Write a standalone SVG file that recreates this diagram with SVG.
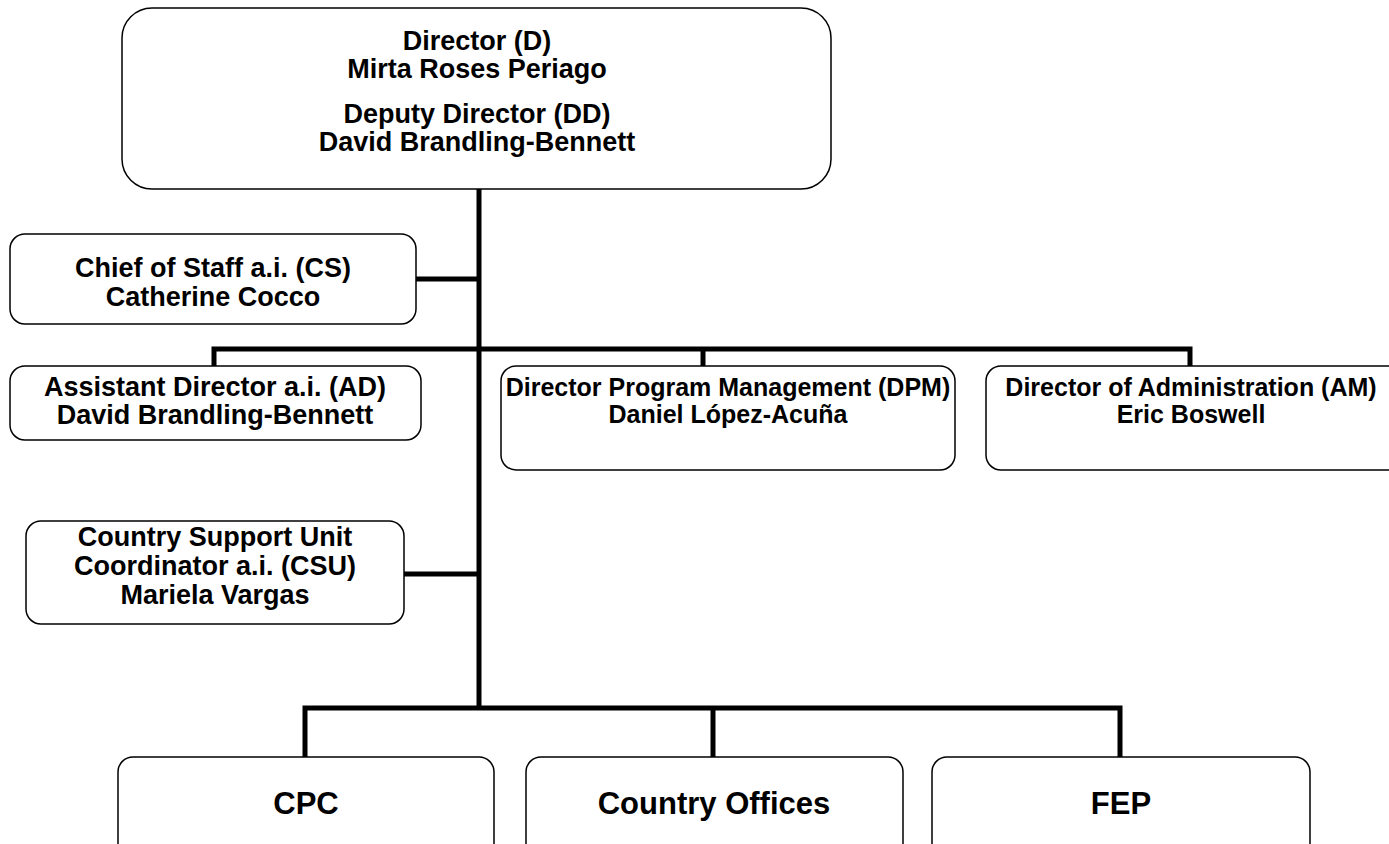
<svg xmlns="http://www.w3.org/2000/svg" width="1389" height="844" viewBox="0 0 1389 844">
<style>
.box{fill:#fff;stroke:#000;stroke-width:1.5}
.t{font-family:"Liberation Sans",Arial,sans-serif;font-weight:bold;font-size:27px;text-anchor:middle;fill:#000}
.big{font-size:31px}
.mid{font-size:25px}
.ln{stroke:#000;stroke-width:5;fill:none}
</style>
<rect width="1389" height="844" fill="#fff"/>
<g id="connectors">
<line class="ln" x1="479" y1="189" x2="479" y2="710"/>
<line class="ln" x1="416" y1="279" x2="479" y2="279"/>
<polyline class="ln" points="214,368 214,349 1190,349 1190,368"/>
<line class="ln" x1="703" y1="349" x2="703" y2="368"/>
<line class="ln" x1="404" y1="574" x2="479" y2="574"/>
<polyline class="ln" points="305,759 305,708 1120,708 1120,759"/>
<line class="ln" x1="713" y1="708" x2="713" y2="759"/>
</g>
<g id="director">
<rect class="box" x="122" y="8" width="709" height="181" rx="30"/>
<text class="t" x="477" y="50">Director (D)</text>
<text class="t" x="477" y="78">Mirta Roses Periago</text>
<text class="t" x="477" y="123">Deputy Director (DD)</text>
<text class="t" x="477" y="151">David Brandling-Bennett</text>
</g>
<g id="cs">
<rect class="box" x="10" y="234" width="406" height="90" rx="15"/>
<text class="t" x="213" y="277">Chief of Staff a.i. (CS)</text>
<text class="t" x="213" y="306">Catherine Cocco</text>
</g>
<g id="ad">
<rect class="box" x="10" y="366" width="411" height="74" rx="15"/>
<text class="t" x="215" y="396">Assistant Director a.i. (AD)</text>
<text class="t" x="215" y="424">David Brandling-Bennett</text>
</g>
<g id="dpm">
<rect class="box" x="501" y="366" width="454" height="104" rx="15"/>
<text class="t mid" x="728" y="396">Director Program Management (DPM)</text>
<text class="t mid" x="728" y="423">Daniel López-Acuña</text>
</g>
<g id="am">
<rect class="box" x="986" y="366" width="430" height="104" rx="15"/>
<text class="t mid" x="1191" y="396">Director of Administration (AM)</text>
<text class="t mid" x="1191" y="423">Eric Boswell</text>
</g>
<g id="csu">
<rect class="box" x="26" y="521" width="378" height="103" rx="15"/>
<text class="t" x="215" y="546">Country Support Unit</text>
<text class="t" x="215" y="575">Coordinator a.i. (CSU)</text>
<text class="t" x="215" y="604">Mariela Vargas</text>
</g>
<g id="cpc">
<rect class="box" x="118" y="757" width="376" height="120" rx="15"/>
<text class="t big" x="306" y="814">CPC</text>
</g>
<g id="country-offices">
<rect class="box" x="526" y="757" width="377" height="120" rx="15"/>
<text class="t big" x="714" y="814">Country Offices</text>
</g>
<g id="fep">
<rect class="box" x="932" y="757" width="378" height="120" rx="15"/>
<text class="t big" x="1121" y="814">FEP</text>
</g>
</svg>
